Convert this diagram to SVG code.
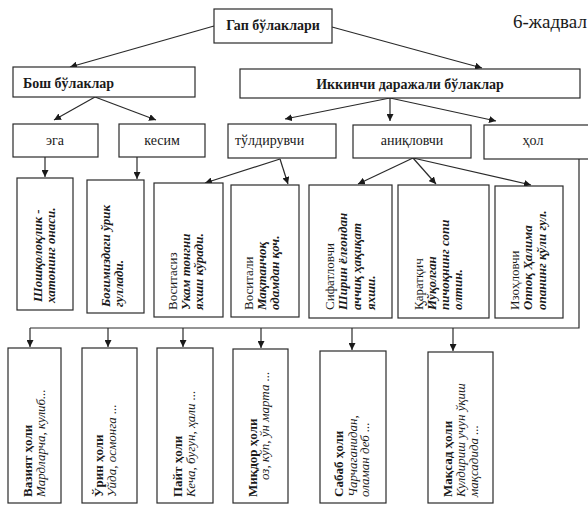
<svg xmlns="http://www.w3.org/2000/svg" width="588" height="508" viewBox="0 0 588 508">
<style>
.bx{fill:#fff;stroke:#2a2a2a;stroke-width:1.2}
.h{font-family:"Liberation Serif","DejaVu Serif",serif;font-size:14px;fill:#1a1a1a}
.b{font-weight:bold}
.r{font-family:"Liberation Serif","DejaVu Serif",serif;font-size:13px;fill:#1a1a1a}
.i{font-style:italic}
.c{stroke:#2a2a2a;stroke-width:1.2;fill:none}
.a{marker-end:url(#ar)}
</style>
<defs>
<marker id="ar" markerUnits="userSpaceOnUse" markerWidth="8" markerHeight="7" refX="7" refY="3.5" orient="auto">
<path d="M0,0 L7,3.5 L0,7 z" fill="#1a1a1a"/>
</marker>
</defs>
<rect width="588" height="508" fill="#fff"/>
<text x="513" y="28" font-family="Liberation Serif, serif" font-size="19" fill="#1a1a1a">6-жадвал</text>

<g id="connectors">
<path class="c a" d="M214,26 L70,67"/>
<path class="c a" d="M332,27 L482,68"/>
<path class="c a" d="M95,97 L54,120"/>
<path class="c a" d="M95,97 L156,120"/>
<path class="c a" d="M390,98 L285,119"/>
<path class="c a" d="M390,98 L390,121"/>
<path class="c a" d="M390,98 L496,121"/>
<path class="c a" d="M45,157 L45,177"/>
<path class="c a" d="M137,157 L137,179"/>
<path class="c a" d="M280,159 L205,183"/>
<path class="c a" d="M280,159 L288,184"/>
<path class="c a" d="M413,158 L358,184"/>
<path class="c a" d="M413,158 L436,184"/>
<path class="c a" d="M413,158 L531,185"/>
<path class="c" d="M579,159 L579,328 L30,328"/>
<path class="c a" d="M30,328 L30,347"/>
<path class="c a" d="M108,328 L108,347"/>
<path class="c a" d="M183,328 L183,347"/>
<path class="c a" d="M261,328 L261,348"/>
<path class="c a" d="M352,328 L352,350"/>
<path class="c a" d="M453,328 L453,351"/>
</g>

<g id="gap"><rect class="bx" x="214" y="9" width="118" height="34"/><text class="h b" x="273" y="30" text-anchor="middle">Гап бўлаклари</text></g>
<g id="bosh"><rect class="bx" x="13" y="67" width="182" height="30"/><text class="h b" x="23" y="88">Бош бўлаклар</text></g>
<g id="ikkinchi"><rect class="bx" x="240" y="69" width="340" height="29"/><text class="h b" x="410" y="89" text-anchor="middle">Иккинчи даражали бўлаклар</text></g>

<g id="ega"><rect class="bx" x="13" y="124" width="85" height="33"/><text class="h" x="55" y="145" text-anchor="middle">эга</text></g>
<g id="kesim"><rect class="bx" x="119" y="124" width="86" height="33"/><text class="h" x="162" y="145" text-anchor="middle">кесим</text></g>
<g id="toldiruvchi"><rect class="bx" x="228" y="124" width="108" height="34"/><text class="h" x="235" y="145">тўлдирувчи</text></g>
<g id="aniqlovchi"><rect class="bx" x="353" y="125" width="118" height="33"/><text class="h" x="412" y="145" text-anchor="middle">аниқловчи</text></g>
<g id="hol"><rect class="bx" x="484" y="125" width="110" height="34"/><text class="h" x="533" y="145" text-anchor="middle">ҳол</text></g>

<g id="shosh"><rect class="bx" x="17" y="178" width="56" height="132"/>
<text class="r b i" transform="translate(42,302) rotate(-90)">Шошқолоқлик -</text>
<text class="r b i" transform="translate(55,303) rotate(-90)">хатонинг онаси.</text></g>
<g id="bogh"><rect class="bx" x="87" y="180" width="57" height="133"/>
<text class="r b i" transform="translate(110,307) rotate(-90)">Боғимиздаги ўрик</text>
<text class="r b i" transform="translate(123,307) rotate(-90)">гуллади.</text></g>
<g id="vositasiz"><rect class="bx" x="154" y="183" width="69" height="134"/>
<text class="r" transform="translate(177,310) rotate(-90)">Воситасиз</text>
<text class="r b i" transform="translate(190,310) rotate(-90)">Укам тонгни</text>
<text class="r b i" transform="translate(203,310) rotate(-90)">яхши кўради.</text></g>
<g id="vositali"><rect class="bx" x="231" y="185" width="68" height="132"/>
<text class="r" transform="translate(253,310) rotate(-90)">Воситали</text>
<text class="r b i" transform="translate(266,310) rotate(-90)">Мақтанчоқ</text>
<text class="r b i" transform="translate(279,310) rotate(-90)">одамдан қоч.</text></g>
<g id="sifatlovchi"><rect class="bx" x="309" y="185" width="83" height="133"/>
<text class="r" transform="translate(334,310) rotate(-90)">Сифатловчи</text>
<text class="r b i" transform="translate(347,310) rotate(-90)">Ширин ёлғондан</text>
<text class="r b i" transform="translate(361,310) rotate(-90)">аччиқ ҳақиқат</text>
<text class="r b i" transform="translate(375,310) rotate(-90)">яхши.</text></g>
<g id="qaratqich"><rect class="bx" x="398" y="185" width="91" height="133"/>
<text class="r" transform="translate(423,310) rotate(-90)">Қаратқич</text>
<text class="r b i" transform="translate(436,310) rotate(-90)">Йўқолган</text>
<text class="r b i" transform="translate(449,310) rotate(-90)">пичоқнинг сопи</text>
<text class="r b i" transform="translate(462,310) rotate(-90)">олтин.</text></g>
<g id="izohlovchi"><rect class="bx" x="495" y="186" width="68" height="132"/>
<text class="r" transform="translate(519,310) rotate(-90)">Изоҳловчи</text>
<text class="r b i" transform="translate(532,310) rotate(-90)">Оппоқ Ҳалима</text>
<text class="r b i" transform="translate(546,310) rotate(-90)">опанинг қўли гул.</text></g>

<g id="vaziyat"><rect class="bx" x="8" y="348" width="53" height="155"/>
<text class="r b" transform="translate(32,497) rotate(-90)">Вазият ҳоли</text>
<text class="r i" transform="translate(45,497) rotate(-90)">Мардларча, кулиб...</text></g>
<g id="orin"><rect class="bx" x="82" y="348" width="55" height="155"/>
<text class="r b" transform="translate(103,497) rotate(-90)">Ўрин ҳоли</text>
<text class="r i" transform="translate(116,497) rotate(-90)">Уйда, осмонга ...</text></g>
<g id="payt"><rect class="bx" x="157" y="348" width="56" height="155"/>
<text class="r b" transform="translate(182,497) rotate(-90)">Пайт  ҳоли</text>
<text class="r i" transform="translate(195,497) rotate(-90)">Кеча, бугун, ҳали ...</text></g>
<g id="miqdor"><rect class="bx" x="233" y="349" width="55" height="154"/>
<text class="r b" transform="translate(257,497) rotate(-90)">Миқдор ҳоли</text>
<text class="r i" transform="translate(269,480) rotate(-90)">оз, кўп, ўн марта ...</text></g>
<g id="sabab"><rect class="bx" x="320" y="351" width="66" height="152"/>
<text class="r b" transform="translate(343,497) rotate(-90)">Сабаб ҳоли</text>
<text class="r i" transform="translate(357,497) rotate(-90)">Чарчаганидан,</text>
<text class="r i" transform="translate(369,497) rotate(-90)">оламан деб ...</text></g>
<g id="maqsad"><rect class="bx" x="428" y="352" width="65" height="151"/>
<text class="r b" transform="translate(452,497) rotate(-90)">Мақсад ҳоли</text>
<text class="r i" transform="translate(465,497) rotate(-90)">Кулдириш учун ўқиш</text>
<text class="r i" transform="translate(478,497) rotate(-90)">мақсадида ...</text></g>
</svg>
